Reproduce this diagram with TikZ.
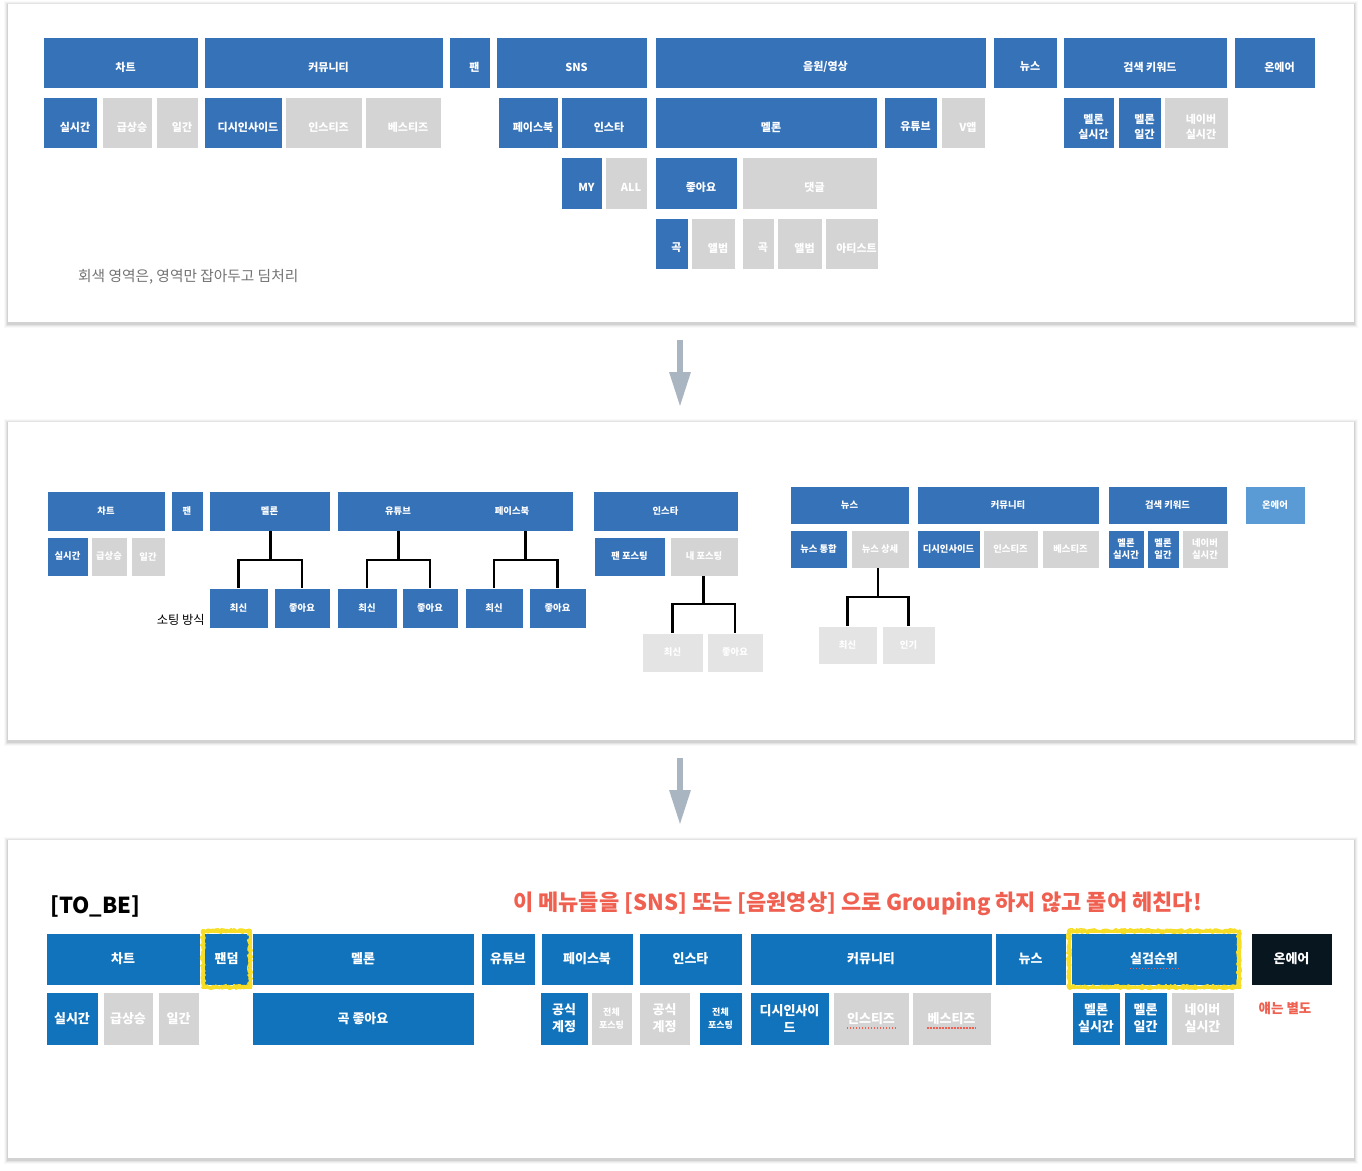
\documentclass[tikz,border=0pt]{standalone}
\usepackage{fontspec}
\setmainfont{Noto Sans CJK KR}
\usetikzlibrary{arrows.meta,calc,decorations.pathmorphing}
\definecolor{blueA}{RGB}{54,114,184}
\definecolor{blueB}{RGB}{17,115,187}
\definecolor{blueL}{RGB}{91,155,213}
\definecolor{grayA}{RGB}{212,212,212}
\definecolor{grayL}{RGB}{228,228,228}
\definecolor{blackA}{RGB}{8,22,32}
\definecolor{redA}{RGB}{240,96,80}
\definecolor{arrowC}{RGB}{170,181,194}
\definecolor{yellowA}{RGB}{246,222,40}
\newcommand\bx[7]{%
  \node[boxbase,#6,minimum width={(#4-#2)*1pt},minimum height={(#5-#3)*1pt}] (#1) at ({(#2+#4)/2},{(#3+#5)/2}) {};
  \node[tx] (#1t) at (#1.center) {#7};}
\tikzset{
  boxbase/.style={rectangle,inner sep=0pt,outer sep=0pt,draw=white,line width=0.6pt},
  bl/.style={fill=blueA},
  gr/.style={fill=grayA},
  gl/.style={fill=grayL},
  lb/.style={fill=blueL},
  bb/.style={fill=blueB},
  bk/.style={fill=blackA},
  tree/.style={line width=2.6pt,black},
  squig/.style={redA,line width=1.6pt,dash pattern=on 1.6pt off 1.4pt},
  yplain/.style={yellowA,line width=3pt},
  yborder/.style={yellowA,line width=1.6pt,line join=round,decorate,decoration={random steps,segment length=1.8pt,amplitude=1.1pt}},
  bigarrow/.style={arrowC,line width=6pt,-{Triangle[length=35pt,width=20pt]}},
}
\newcommand\panel[3]{%
  \foreach \e/\o in {4/0.025,3/0.035,2/0.05,1/0.07}{
    \fill[black,opacity=\o] ({#1-\e},{#2-\e+1}) rectangle ({1354+\e},{#3+\e+1.5});}
  \fill[white] (#1,#2) rectangle (1354,#3);}
\newcommand\yframe[3]{%
  \coordinate (#1nw) at ($(#2.north west)+(-#3,-2)$);
  \coordinate (#1se) at ($(#2.south east)+(#3,2)$);
  \draw[yplain] (#1nw) rectangle (#1se);
  \draw[yborder] ($(#1nw)+(-1.2,-1.2)$) -- ($(#1nw -| #1se)+(1.2,-1.2)$);
  \draw[yborder] ($(#1nw -| #1se)+(1.2,-1.2)$) -- ($(#1se)+(1.2,1.2)$);
  \draw[yborder] ($(#1se)+(1.2,1.2)$) -- ($(#1nw |- #1se)+(-1.2,1.2)$);
  \draw[yborder] ($(#1nw |- #1se)+(-1.2,1.2)$) -- ($(#1nw)+(-1.2,-1.2)$);
  \draw[yborder] ($(#1nw)+(1.2,1.2)$) -- ($(#1nw -| #1se)+(-1.2,1.2)$);
  \draw[yborder] ($(#1nw -| #1se)+(-1.2,1.2)$) -- ($(#1se)+(-1.2,-1.2)$);
  \draw[yborder] ($(#1se)+(-1.2,-1.2)$) -- ($(#1nw |- #1se)+(1.2,-1.2)$);
  \draw[yborder] ($(#1nw |- #1se)+(1.2,-1.2)$) -- ($(#1nw)+(1.2,1.2)$);}
\begin{document}
\begin{tikzpicture}[x=1pt,y=-1pt]
\useasboundingbox (0,0) rectangle (1362,1170);
\fill[white] (0,0) rectangle (1362,1170);
\panel{8}{4}{322}
\panel{8}{422}{740}
\panel{8}{840}{1158}

% ---------- top panel ----------
\begin{scope}[tx/.style={text=white,font=\fontsize{11}{15}\selectfont\bfseries,align=center,inner sep=0pt,xshift=5pt,yshift=-4.5pt}]
\bx{tchart}{43}{37}{198}{88}{bl}{차트}
\bx{tcomm}{204}{37}{443}{88}{bl}{커뮤니티}
\bx{tfan}{449}{37}{490}{88}{bl}{팬}
\bx{tsns}{496}{37}{647}{88}{bl}{SNS}
\bx{tmusic}{655}{37}{986}{88}{bl}{음원/영상}
\bx{tnews}{993}{37}{1057}{88}{bl}{뉴스}
\bx{tsearch}{1063}{37}{1227}{88}{bl}{검색 키워드}
\bx{tonair}{1234}{37}{1315}{88}{bl}{온에어}
\bx{trt}{43}{97}{97}{148}{bl}{실시간}
\bx{tsurge}{102}{97}{152}{148}{gr}{급상승}
\bx{tdaily}{156}{97}{198}{148}{gr}{일간}
\bx{tdc}{204}{97}{282}{148}{bl}{디시인사이드}
\bx{tinstiz}{285}{97}{362}{148}{gr}{인스티즈}
\bx{tbestiz}{365}{97}{441}{148}{gr}{베스티즈}
\bx{tfb}{498}{97}{558}{148}{bl}{페이스북}
\bx{tinsta}{561}{97}{647}{148}{bl}{인스타}
\bx{tmelon}{655}{97}{877}{148}{bl}{멜론}
\bx{tyt}{884}{97}{937}{148}{bl}{유튜브}
\bx{tvapp}{941}{97}{985}{148}{gr}{V앱}
\bx{tmrt}{1063}{97}{1114}{148}{bl}{멜론\\실시간}
\bx{tmd}{1118}{97}{1161}{148}{bl}{멜론\\일간}
\bx{tnrt}{1164}{97}{1228}{148}{gr}{네이버\\실시간}
\bx{tmy}{561}{157}{602}{209}{bl}{MY}
\bx{tall}{605}{157}{647}{209}{gr}{ALL}
\bx{tlike}{655}{157}{737}{209}{bl}{좋아요}
\bx{tcmt}{742}{157}{877}{209}{gr}{댓글}
\bx{tsong1}{655}{218}{688}{269}{bl}{곡}
\bx{talb1}{691}{218}{735}{269}{gr}{앨범}
\bx{tsong2}{742}{218}{774}{269}{gr}{곡}
\bx{talb2}{777}{218}{822}{269}{gr}{앨범}
\bx{tartist}{825}{218}{878}{269}{gr}{아티스트}
\end{scope}
\node[anchor=west,inner sep=0pt,text=black!55,font=\fontsize{14.7}{17}\selectfont] (tnote) at (78,277) {회색 영역은, 영역만 잡아두고 딤처리};

% ---------- arrows ----------
\coordinate (a1s) at (680,340); \coordinate (a1e) at (680,407);
\coordinate (a2s) at (680,758); \coordinate (a2e) at (680,825);
\draw[bigarrow] (a1s) -- (a1e);
\draw[bigarrow] (a2s) -- (a2e);

% ---------- middle panel ----------
\begin{scope}[tx/.style={text=white,font=\fontsize{9.3}{12}\selectfont\bfseries,align=center,inner sep=0pt}]
\bx{mchart}{47}{491}{165}{531}{bl}{차트}
\bx{mfan}{171}{491}{203}{531}{bl}{팬}
\bx{mmelon}{209}{491}{330}{531}{bl}{멜론}
\bx{mytfb}{337}{491}{573}{531}{bl}{}
\bx{minsta}{593}{491}{738}{531}{bl}{인스타}
\bx{mrt}{47}{537}{88}{576}{bl}{실시간}
\bx{msurge}{91}{537}{127}{576}{gr}{급상승}
\bx{mdaily}{131}{537}{165}{576}{gr}{일간}
\bx{mfanpost}{594}{537}{665}{576}{bl}{팬 포스팅}
\bx{mmypost}{670}{537}{738}{576}{gr}{내 포스팅}
\bx{mc1}{209}{588}{268}{628}{bl}{최신}
\bx{mc2}{274}{588}{330}{628}{bl}{좋아요}
\bx{mc3}{337}{588}{397}{628}{bl}{최신}
\bx{mc4}{402}{588}{458}{628}{bl}{좋아요}
\bx{mc5}{465}{588}{523}{628}{bl}{최신}
\bx{mc6}{529}{588}{586}{628}{bl}{좋아요}
\bx{mc7}{642}{633}{703}{672}{gl}{최신}
\bx{mc8}{707}{633}{763}{672}{gl}{좋아요}
\bx{mnews}{790}{486}{909}{524}{bl}{뉴스}
\bx{mcomm}{917}{486}{1099}{524}{bl}{커뮤니티}
\bx{msearch}{1108}{486}{1227}{524}{bl}{검색 키워드}
\bx{monair}{1245}{486}{1305}{524}{lb}{온에어}
\bx{mnewsall}{790}{530}{847}{568}{bl}{뉴스 통합}
\bx{mnewsdet}{851}{530}{909}{568}{gr}{뉴스 상세}
\bx{mdc}{917}{530}{980}{568}{bl}{디시인사이드}
\bx{minstiz}{983}{530}{1038}{568}{gr}{인스티즈}
\bx{mbestiz}{1042}{530}{1099}{568}{gr}{베스티즈}
\bx{mmrt}{1108}{530}{1144}{568}{bl}{멜론\\실시간}
\bx{mmd}{1147}{530}{1179}{568}{bl}{멜론\\일간}
\bx{mnrt}{1182}{530}{1228}{568}{gr}{네이버\\실시간}
\bx{mn1}{818}{626}{877}{664}{gl}{최신}
\bx{mn2}{882}{626}{935}{664}{gl}{인기}
\node[tx] (mytlabel) at (398,511) {유튜브};
\node[tx] (mfblabel) at (512,511) {페이스북};
\end{scope}
\node[anchor=east,inner sep=0pt,font=\fontsize{12.3}{14}\selectfont] (msort) at (205,620) {소팅 방식};

% trees
\coordinate (k1) at ($(mc1.north)!.5!(mc2.north)+(0,-28)$);
\draw[tree] (k1 |- mmelon.south) -- (k1);
\draw[tree] (mc1.north) |- (k1) -| (mc2.north);
\coordinate (k2) at ($(mc3.north)!.5!(mc4.north)+(0,-28)$);
\draw[tree] (k2 |- mytfb.south) -- (k2);
\draw[tree] (mc3.north) |- (k2) -| (mc4.north);
\coordinate (k3) at ($(mc5.north)!.5!(mc6.north)+(0,-28)$);
\draw[tree] (k3 |- mytfb.south) -- (k3);
\draw[tree] (mc5.north) |- (k3) -| (mc6.north);
\coordinate (k4) at ($(mc7.north)!.5!(mc8.north)+(0,-29)$);
\draw[tree] (k4 |- mmypost.south) -- (k4);
\draw[tree] (mc7.north) |- (k4) -| (mc8.north);
\coordinate (k5) at ($(mn1.north)!.5!(mn2.north)+(0,-29)$);
\draw[tree] (k5 |- mnewsdet.south) -- (k5);
\draw[tree] (mn1.north) |- (k5) -| (mn2.north);

% ---------- bottom panel ----------
\node[anchor=west,inner sep=0pt,font=\fontsize{22}{26}\selectfont\bfseries] (tobe) at (50,906) {[TO\_BE]};
\node[anchor=west,inner sep=0pt,text=redA,font=\fontsize{22}{26}\selectfont\bfseries] (headline) at (513,904) {이 메뉴들을 [SNS] 또는 [음원영상] 으로 Grouping 하지 않고 풀어 헤친다!};
\begin{scope}[tx/.style={text=white,font=\fontsize{13}{17}\selectfont\bfseries,align=center,inner sep=0pt}]
\bx{bchart}{46}{933}{200}{985}{bb}{차트}
\bx{bfandom}{204}{933}{249}{985}{bb}{}
\bx{bmelon}{252}{933}{474}{985}{bb}{멜론}
\bx{byt}{481}{933}{535}{985}{bb}{유튜브}
\bx{bfb}{541}{933}{633}{985}{bb}{페이스북}
\bx{binsta}{639}{933}{742}{985}{bb}{인스타}
\bx{bcomm}{750}{933}{992}{985}{bb}{커뮤니티}
\bx{bnews}{995}{933}{1066}{985}{bb}{뉴스}
\bx{bsil}{1071}{933}{1237}{985}{bb}{}
\bx{bonair}{1251}{933}{1332}{985}{bk}{온에어}
\bx{brt}{46}{992}{98}{1045}{bb}{실시간}
\bx{bsurge}{103}{992}{153}{1045}{gr}{급상승}
\bx{bdaily}{158}{992}{199}{1045}{gr}{일간}
\bx{bsong}{252}{992}{474}{1045}{bb}{곡 좋아요}
\bx{bfbo}{540}{992}{588}{1045}{bb}{공식\\계정}
\bx{binso}{639}{992}{690}{1045}{gr}{공식\\계정}
\bx{bdc}{750}{992}{829}{1045}{bb}{디시인사이\\드}
\bx{binstiz}{833}{992}{909}{1045}{gr}{인스티즈}
\bx{bbestiz}{912}{992}{991}{1045}{gr}{베스티즈}
\bx{bmrt}{1072}{992}{1120}{1045}{bb}{멜론\\실시간}
\bx{bmd}{1124}{992}{1167}{1045}{bb}{멜론\\일간}
\bx{bnrt}{1171}{992}{1234}{1045}{gr}{네이버\\실시간}
\end{scope}
\begin{scope}[tx/.style={text=white,font=\fontsize{9}{13}\selectfont\bfseries,align=center,inner sep=0pt}]
\bx{bfball}{591}{992}{632}{1045}{gr}{전체\\포스팅}
\bx{binsall}{699}{992}{742}{1045}{bb}{전체\\포스팅}
\end{scope}
\node[inner sep=0pt,text=redA,font=\fontsize{13.5}{15}\selectfont\bfseries] (bsep) at (1285,1008) {얘는 별도};
\yframe{yf1}{bfandom}{1}
\yframe{yf2}{bsil}{2}
\begin{scope}[tx/.style={text=white,font=\fontsize{13}{17}\selectfont\bfseries,align=center,inner sep=0pt}]
\node[tx] (bfandomlabel) at (bfandom.center) {팬덤};
\node[tx] (bsillabel) at (bsil.center) {실검순위};
\end{scope}
\draw[squig] ($(bsillabel.south west)+(0,3)$) -- ($(bsillabel.south east)+(0,3)$);
\draw[squig] ($(binstizt.south west)+(0,3)$) -- ($(binstizt.south east)+(0,3)$);
\draw[squig] ($(bbestizt.south west)+(0,3)$) -- ($(bbestizt.south east)+(0,3)$);
\end{tikzpicture}
\end{document}
